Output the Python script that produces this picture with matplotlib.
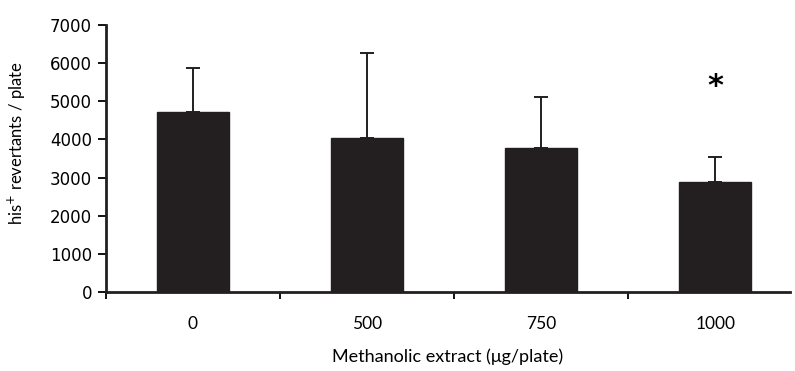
import matplotlib.pyplot as plt
import numpy as np

# data
doses = ['0', '500', '750', '1000']
means = [4720, 4045, 3780, 2890]
sd_upper = [1160, 2225, 1340, 660]
significant = [False, False, False, True]

fig = plt.figure(figsize=(7.95, 3.71), dpi=100)
ax = fig.add_axes([0.1333, 0.2129, 0.8604, 0.7197])

x = np.arange(len(doses))
ax.bar(x, means, width=0.41, color='#231f20', edgecolor='#231f20', zorder=2)
ax.errorbar(x, means, yerr=[np.zeros(len(means)), sd_upper], fmt='none',
            ecolor='#231f20', elinewidth=1.4, capsize=5, capthick=1.4, zorder=1)

for xi, m, s, sig in zip(x, means, sd_upper, significant):
    if sig:
        ax.text(xi, 5380, '*', ha='center', va='center', fontsize=22,
                fontweight='bold', color='black')

ax.set_ylim(0, 7000)
ax.set_yticks(range(0, 7001, 1000))
ax.set_xlim(-0.5, 3.43)

# category ticks between the bars, labels centred under the bars
ax.set_xticks(np.arange(-0.5, 3.0, 1.0))
ax.set_xticklabels([])
ax.set_xticks(x, minor=True)
ax.set_xticklabels(doses, minor=True, fontfamily='Lato', fontsize=12.5)
ax.tick_params(axis='x', which='minor', length=0, pad=17)
ax.tick_params(axis='x', which='major', length=5, width=1.3, direction='out')
ax.tick_params(axis='y', length=6, width=1.3, direction='out', labelsize=12, pad=4)

for side in ['top', 'right']:
    ax.spines[side].set_visible(False)
for side in ['left', 'bottom']:
    ax.spines[side].set_linewidth(2)
    ax.spines[side].set_color('#231f20')

ax.set_ylabel('his$^{+}$ revertants / plate', fontfamily='Lato', fontsize=12)
ax.yaxis.set_label_coords(-0.114, 0.558)
ax.set_xlabel('Methanolic extract (\u03bcg/plate)', fontfamily='Lato',
              fontsize=13, labelpad=12)

plt.savefig('out.png', dpi=100)
